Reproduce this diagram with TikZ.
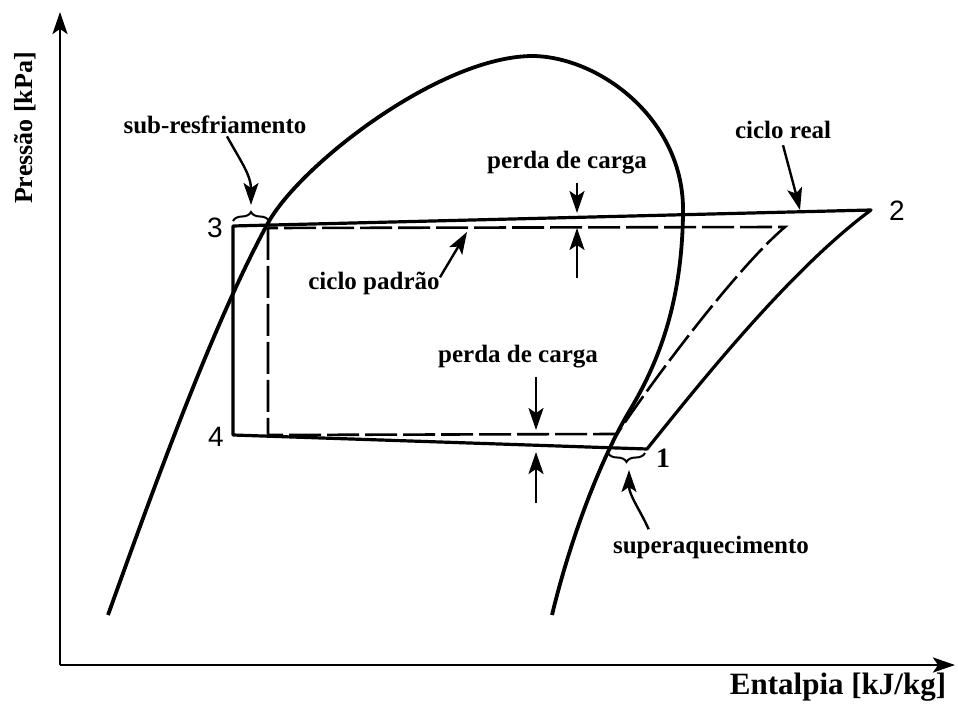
\documentclass[tikz,border=0pt]{standalone}
\usepackage{fontspec}
\setmainfont{Liberation Serif}
\newfontfamily\digitfont{Liberation Sans}
\usetikzlibrary{arrows.meta,decorations.pathreplacing}

\begin{document}
\begin{tikzpicture}[
    x=0.5pt,
    y=-0.5pt,
    >={Stealth[length=11pt,width=7.5pt,inset=2.5pt]},
    rotulo/.style={font=\fontsize{12.5}{14}\selectfont\bfseries,inner sep=1pt},
    ponto/.style={font=\digitfont\fontsize{14}{16}\selectfont,inner sep=0pt},
    eixo/.style={line width=1.4pt,->},
    curva/.style={line width=1.9pt},
    cicloreal/.style={line width=1.6pt,line join=round},
    padrao/.style={line width=1.3pt,dash pattern=on 16pt off 3pt},
    seta/.style={line width=1.2pt,->},
    chave/.style={line width=1pt,decorate,decoration={brace,amplitude=4.5pt}}
]
    \useasboundingbox (0,0) rectangle (958,705);

    % Eixos
    \coordinate (origem) at (60,665);
    \coordinate (topoy) at (60,12);
    \coordinate (fimx) at (955,665);
    \draw[eixo] (origem) -- (topoy);
    \draw[eixo] (origem) -- (fimx);
    \node[font=\fontsize{13}{15}\selectfont\bfseries,rotate=90] (eixop) at (25,128) {Pressão [kPa]};
    \node[font=\fontsize{15.5}{17}\selectfont\bfseries] (eixoh) at (838,687) {Entalpia [kJ/kg]};

    % Curva de saturacao
    \draw[curva] (108,615) .. controls (160,470) and (215,320) .. (268,223)
        .. controls (300,165) and (440,56) .. (533,56)
        .. controls (600,57) and (685,120) .. (683,213)
        .. controls (682,300) and (660,360) .. (630,410)
        .. controls (600,460) and (570,540) .. (552,615);

    % Ciclo real
    \coordinate (c3) at (233,226);
    \coordinate (c4) at (233,435);
    \coordinate (c1) at (647,449);
    \coordinate (c2) at (871,210);
    \draw[cicloreal] (c3) -- (c4) -- (c1) .. controls (700,383) and (790,270) .. (c2) -- cycle;

    % Ciclo padrao
    \coordinate (d3) at (268,228);
    \coordinate (d4) at (268,435);
    \coordinate (d1) at (617,434);
    \coordinate (d2) at (785,227);
    \draw[padrao] (d3) -- (d4) -- (d1) .. controls (660,370) and (740,265) .. (d2) -- cycle;

    % Pontos
    \node[ponto] (n3) at (215,228) {3};
    \node[ponto] (n4) at (216,437) {4};
    \node[ponto] (n2) at (897,211) {2};
    \node[font=\fontsize{14}{16}\selectfont\bfseries,inner sep=0pt] (n1) at (663,458) {1};

    % Sub-resfriamento
    \draw[chave] (233,221) -- (269,221);
    \coordinate (bsub) at (251,205);
    \node[rotulo] (sub) at (215,125) {sub-resfriamento};
    \draw[seta] ([xshift=6pt]sub.south) .. controls (240,160) and (251,175) .. (bsub);

    % Superaquecimento
    \draw[chave] (645,453) -- (608,453);
    \coordinate (bsup) at (629,470);
    \node[rotulo] (sup) at (711,547) {superaquecimento};
    \draw[seta] ([xshift=19pt,yshift=2pt]sup.north west) .. controls (640,510) and (629,495) .. (bsup);

    % Ciclo real e ciclo padrao
    \node[rotulo] (creal) at (783,130) {ciclo real};
    \coordinate (areal) at (800,210);
    \draw[seta] ([yshift=-2pt]creal.south) .. controls (790,170) .. (areal);
    \node[rotulo] (cpad) at (374,283) {ciclo padrão};
    \coordinate (apad) at (467,232);
    \draw[seta] ([xshift=-1pt,yshift=-4pt]cpad.north east) -- (apad);

    % Perda de carga (alta)
    \node[rotulo] (perda1) at (567,163) {perda de carga};
    \coordinate (alto1) at (577,213);
    \coordinate (alto2) at (577,278);
    \coordinate (alto3) at (577,228);
    \draw[seta] ([xshift=5pt,yshift=-3pt]perda1.south) -- (alto1);
    \draw[seta] (alto2) -- (alto3);

    % Perda de carga (baixa)
    \node[rotulo] (perda2) at (518,357) {perda de carga};
    \coordinate (baixo1) at (536,430);
    \coordinate (baixo2) at (536,503);
    \coordinate (baixo3) at (536,452);
    \draw[seta] ([xshift=9pt,yshift=-3pt]perda2.south) -- (baixo1);
    \draw[seta] (baixo2) -- (baixo3);
\end{tikzpicture}
\end{document}
